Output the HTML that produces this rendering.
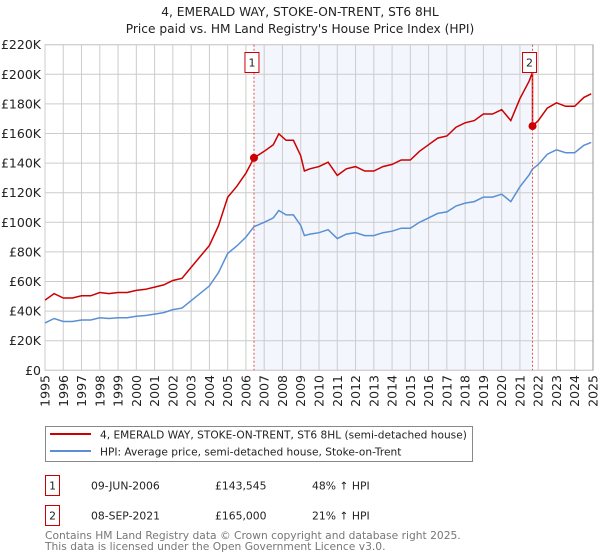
<!DOCTYPE html>
<html><head><meta charset="utf-8"><style>
body{margin:0;background:#fff;}
svg{display:block;font-family:"DejaVu Sans","Liberation Sans",sans-serif;}
</style></head><body>
<svg id="c" width="600" height="560" viewBox="0 0 600 560">
<text x="300" y="16" text-anchor="middle" font-size="12.2" fill="#222">4, EMERALD WAY, STOKE-ON-TRENT, ST6 8HL</text>
<text x="300" y="33" text-anchor="middle" font-size="12.2" fill="#222">Price paid vs. HM Land Registry's House Price Index (HPI)</text>
<g id="plot"></g>
<g>
<rect x="45.5" y="426.5" width="427" height="35" fill="#fff" stroke="#888"/>
<line x1="50" y1="434" x2="91" y2="434" stroke="#cc0000" stroke-width="2"/>
<text x="100" y="438.5" font-size="10.6" fill="#222">4, EMERALD WAY, STOKE-ON-TRENT, ST6 8HL (semi-detached house)</text>
<line x1="50" y1="451" x2="91" y2="451" stroke="#5b8fd3" stroke-width="2"/>
<text x="100" y="455.5" font-size="10.6" fill="#222">HPI: Average price, semi-detached house, Stoke-on-Trent</text>
</g>
<g font-size="10.8" fill="#222">
<rect x="45.5" y="475.5" width="14" height="20" fill="none" stroke="#cc0000"/>
<text x="52.5" y="489.5" text-anchor="middle">1</text>
<text x="91" y="489.5">09-JUN-2006</text><text x="215" y="489.5">£143,545</text><text x="312" y="489.5">48% ↑ HPI</text>
<rect x="45.5" y="505.5" width="14" height="20" fill="none" stroke="#cc0000"/>
<text x="52.5" y="519.5" text-anchor="middle">2</text>
<text x="91" y="519.5">08-SEP-2021</text><text x="215" y="519.5">£165,000</text><text x="312" y="519.5">21% ↑ HPI</text>
</g>
<text x="45" y="539" font-size="10.7" fill="#777">Contains HM Land Registry data © Crown copyright and database right 2025.</text>
<text x="45" y="550" font-size="10.7" fill="#777">This data is licensed under the Open Government Licence v3.0.</text>
</svg>
<script>
const hpiYears=[1995,1995.5,1996,1996.5,1997,1997.5,1998,1998.5,1999,1999.5,2000,2000.5,2001,2001.5,2002,2002.5,2003,2003.5,2004,2004.5,2005,2005.5,2006,2006.44,2007,2007.5,2007.8,2008.2,2008.6,2009,2009.2,2009.5,2010,2010.5,2011,2011.5,2012,2012.5,2013,2013.5,2014,2014.5,2015,2015.5,2016,2016.5,2017,2017.5,2018,2018.5,2019,2019.5,2020,2020.5,2021,2021.5,2021.69,2022,2022.5,2023,2023.5,2024,2024.5,2024.9];
const hpiValues=[32,35,33,33,34,34,35.5,35,35.5,35.5,36.5,37,38,39,41,42,47,52,57,66,79,84,90,97,100,103,108,105,105,98,91,92,93,95,89,92,93,91,91,93,94,96,96,100,103,106,107,111,113,114,117,117,119,114,124,132,136,139,146,149,147,147,152,154];
const saleYears=[2006.44,2021.69];
const salePrices=[143.545,165.0];
const saleLabels=["1","2"];
const yTicks=[0,20,40,60,80,100,120,140,160,180,200,220];
const yTickLabels=["£0","£20K","£40K","£60K","£80K","£100K","£120K","£140K","£160K","£180K","£200K","£220K"];
const xTicks=[1995,1996,1997,1998,1999,2000,2001,2002,2003,2004,2005,2006,2007,2008,2009,2010,2011,2012,2013,2014,2015,2016,2017,2018,2019,2020,2021,2022,2023,2024,2025];

const NS="http://www.w3.org/2000/svg";
const L=45,R=593,T=44.7,B=370.3;
const xs=y=>L+(y-1995)/30*(R-L);
const ys=v=>B-v/220*(B-T);
const g=document.getElementById('plot');
function mk(t,a){const e=document.createElementNS(NS,t);for(const k in a)e.setAttribute(k,a[k]);g.appendChild(e);return e;}
function hpiAt(y){for(let i=1;i<hpiYears.length;i++){if(y<=hpiYears[i]){const t=(y-hpiYears[i-1])/(hpiYears[i]-hpiYears[i-1]);return hpiValues[i-1]+t*(hpiValues[i]-hpiValues[i-1]);}}return hpiValues[hpiValues.length-1];}

const sh=mk('rect',{x:xs(saleYears[0]),y:T,width:xs(saleYears[1])-xs(saleYears[0]),height:B-T,fill:'#f3f6fd'});


yTicks.forEach((v,i)=>{
const l=mk('line',{x1:L,x2:R,y1:ys(v),y2:ys(v),stroke:'#ccc','stroke-width':1});


const t=mk('text',{x:L-4,y:ys(v)+4.5,'text-anchor':'end','font-size':12.5,fill:'#222'});
t.textContent=yTickLabels[i];


});
xTicks.forEach(y=>{
const l=mk('line',{x1:xs(y),x2:xs(y),y1:T,y2:B,stroke:'#ccc','stroke-width':1});


const t=mk('text',{x:0,y:0,'text-anchor':'end','font-size':12.5,fill:'#222',transform:`translate(${xs(y)+4.5},375) rotate(-90)`});
t.textContent=y;


});
const fr=mk('rect',{x:L,y:T,width:R-L,height:B-T,fill:'none',stroke:'#ccc'});


const rl=mk('line',{x1:R,x2:R,y1:T,y2:B,stroke:'#999'});



let d='';hpiYears.forEach((y,i)=>{d+=(i?'L':'M')+xs(y).toFixed(1)+','+ys(hpiValues[i]).toFixed(1);});
const hp=mk('path',{d:d,fill:'none',stroke:'#5b8fd3','stroke-width':1.5});



const r1=salePrices[0]/hpiAt(saleYears[0]), r2=salePrices[1]/hpiAt(saleYears[1]);
let pts=[];
hpiYears.forEach((y,i)=>{if(y<=saleYears[1])pts.push([y,hpiValues[i]*r1]);});
pts.push([saleYears[1],hpiAt(saleYears[1])*r1]);
pts.push([saleYears[1],salePrices[1]]);
hpiYears.forEach((y,i)=>{if(y>saleYears[1])pts.push([y,hpiValues[i]*r2]);});
d='';pts.forEach((p,i)=>{d+=(i?'L':'M')+xs(p[0]).toFixed(1)+','+ys(p[1]).toFixed(1);});
const pp=mk('path',{d:d,fill:'none',stroke:'#cc0000','stroke-width':1.5});



saleYears.forEach((y,i)=>{
const dl=mk('line',{x1:xs(y),x2:xs(y),y1:T,y2:B,stroke:'#e05050','stroke-width':1,'stroke-dasharray':'2,2'});


const c=mk('circle',{cx:xs(y),cy:ys(salePrices[i]),r:4,fill:'#cc0000'});


const b=mk('rect',{x:xs(y)-7-(i?3:2),y:52.5,width:14,height:20,fill:'#fff',stroke:'#cc0000'});


const t=mk('text',{x:xs(y)-(i?3:2),y:66.5,'text-anchor':'middle','font-size':11,fill:'#222'});
t.textContent=saleLabels[i];


});
</script>
</body></html>
